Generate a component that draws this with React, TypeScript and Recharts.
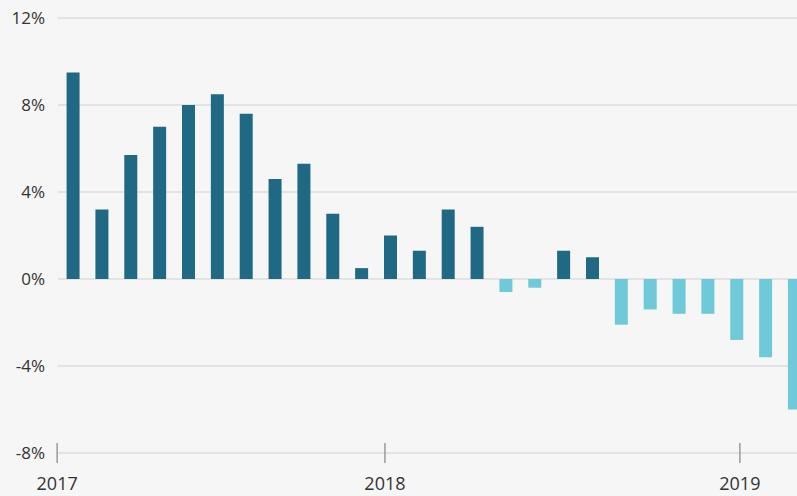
import { BarChart, Bar, Cell, XAxis, YAxis, CartesianGrid } from 'recharts';

// monthly change, Jan 2017 - Feb 2019
const months = [
  'Jan 17', 'Feb 17', 'Mar 17', 'Apr 17', 'May 17', 'Jun 17', 'Jul 17', 'Aug 17', 'Sep 17', 'Oct 17', 'Nov 17', 'Dec 17',
  'Jan 18', 'Feb 18', 'Mar 18', 'Apr 18', 'May 18', 'Jun 18', 'Jul 18', 'Aug 18', 'Sep 18', 'Oct 18', 'Nov 18', 'Dec 18',
  'Jan 19', 'Feb 19',
];
const changes = [
  9.5, 3.2, 5.7, 7.0, 8.0, 8.5, 7.6, 4.6, 5.3, 3.0, 0.5, 2.0,
  1.3, 3.2, 2.4, -0.6, -0.4, 1.3, 1.0, -2.1, -1.4, -1.6, -1.6, -2.8,
  -3.6, -6.0,
];

const yearLabels = ['2017', '2018', '2019'];
const yearTickPos = [-0.55, 10.81, 23.11];
const yTicks = [-8, -4, 0, 4, 8, 12];

const DARK = '#1f6985';
const LIGHT = '#6ec9d9';
const FONT = '"Open Sans", sans-serif';

const data = months.map((m, i) => ({ idx: i, month: m, value: changes[i] }));

const YearTick = ({ x, y, payload }: any) => {
  const i = yearTickPos.indexOf(payload.value);
  return (
    <g>
      <line x1={x} x2={x} y1={y - 10} y2={y + 10} stroke="#9a9a9a" strokeWidth={1.5} />
      <text x={x} y={y + 37} textAnchor="middle" fill="#333" fontSize={18} fontFamily={FONT}>
        {yearLabels[i]}
      </text>
    </g>
  );
};

export default function App() {
  return (
    <div
      style={{
        position: 'absolute',
        left: 0,
        top: 0,
        width: 797,
        height: 496,
        overflow: 'hidden',
        background: '#f6f6f6',
      }}
    >
      <BarChart width={797} height={496} data={data} margin={{ top: 18, right: 0, bottom: 0, left: 0 }}>
        <CartesianGrid vertical={false} stroke="#dcdcdc" strokeWidth={1.4} />
        <XAxis
          dataKey="idx"
          type="number"
          domain={[-0.52, 25.09]}
          allowDataOverflow
          ticks={yearTickPos}
          axisLine={false}
          tickLine={false}
          tickSize={0}
          tickMargin={0}
          height={43}
          interval={0}
          tick={<YearTick />}
        />
        <YAxis
          domain={[-8, 12]}
          ticks={yTicks}
          width={58}
          axisLine={false}
          tickLine={false}
          tickSize={0}
          tickMargin={13}
          tickFormatter={(v) => `${v}%`}
          tick={{ fill: '#333', fontSize: 17, fontFamily: FONT }}
        />
        <Bar dataKey="value" barSize={13} isAnimationActive={false}>
          {data.map((d, i) => (
            <Cell key={`c-${i}`} fill={d.value >= 0 ? DARK : LIGHT} />
          ))}
        </Bar>
      </BarChart>
    </div>
  );
}
